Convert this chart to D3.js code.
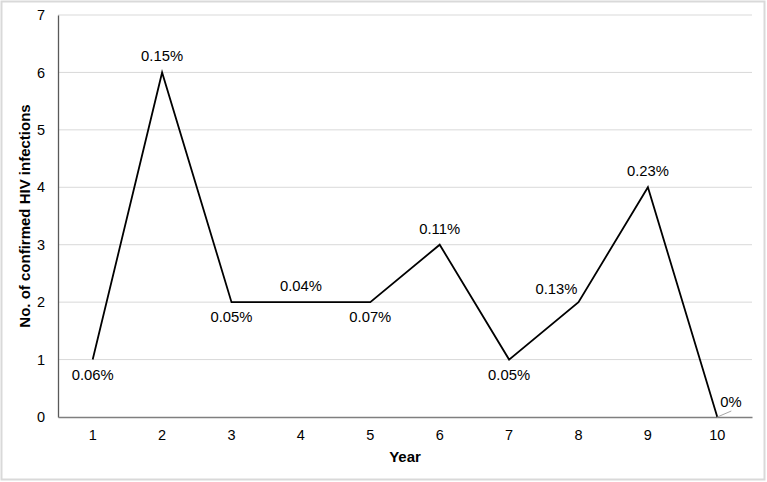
<!DOCTYPE html>
<html><head><meta charset="utf-8">
<script src="https://cdn.jsdelivr.net/npm/d3@7"></script>
<style>body{margin:0;background:#fff}svg{display:block;font-family:"Liberation Sans",Arial,sans-serif}</style>
</head><body><svg id="c" width="767" height="482"></svg>
<script>
const years = ["1","2","3","4","5","6","7","8","9","10"];
const infections = [1,6,2,2,2,3,1,2,4,0];
const rates = ["0.06%","0.15%","0.05%","0.04%","0.07%","0.11%","0.05%","0.13%","0.23%","0%"];
const labelSide = ["below","above","below","above","below","above","below","left","above","leader"];
const yTicks = [0,1,2,3,4,5,6,7];

const svg = d3.select("#c");
const m = {l:58, r:752, t:15, b:417};
svg.append("rect").attr("x",1.5).attr("y",1.5).attr("width",763).attr("height",478)
  .attr("fill","#fff").attr("stroke","#d9d9d9").attr("stroke-width",2);

const x = d3.scaleBand().domain(years).range([m.l,m.r]);
const y = d3.scaleLinear().domain([0,7]).range([m.b,m.t]);

// gridlines
svg.append("g").selectAll("line").data(yTicks.filter(d=>d>0)).join("line")
  .attr("x1",m.l).attr("x2",m.r).attr("y1",d=>y(d)).attr("y2",d=>y(d))
  .attr("stroke","#d9d9d9").attr("stroke-width",1);

// y axis
const ya = svg.append("g").attr("transform",`translate(${m.l},0)`)
  .call(d3.axisLeft(y).tickValues(yTicks).tickSize(0).tickPadding(13).tickFormat(d3.format("d")));
ya.select(".domain").attr("stroke","#595959").attr("stroke-width",1.3);
ya.selectAll("text").attr("font-size",14.5).attr("fill","#000").attr("font-family","Liberation Sans, Arial, sans-serif");

// x axis
const xa = svg.append("g").attr("transform",`translate(0,${m.b})`)
  .call(d3.axisBottom(x).tickSize(0).tickPadding(13));
xa.select(".domain").attr("stroke","#7f7f7f").attr("stroke-width",1.3);
xa.selectAll("text").attr("font-size",14.5).attr("fill","#000").attr("font-family","Liberation Sans, Arial, sans-serif");

const cx = (d,i)=>x(years[i])+x.bandwidth()/2;

// line
svg.append("path").datum(infections)
  .attr("d", d3.line().x((d,i)=>cx(d,i)).y(d=>y(d)))
  .attr("fill","none").attr("stroke","#000").attr("stroke-width",1.8);

// leader line
infections.forEach((v,i)=>{
  if(labelSide[i]==="leader"){
    svg.append("line").attr("x1",cx(v,i)).attr("y1",y(v)).attr("x2",cx(v,i)+14).attr("y2",y(v)-6)
      .attr("stroke","#a6a6a6").attr("stroke-width",1);
  }
});

// data labels
svg.append("g").selectAll("text").data(infections).join("text")
  .attr("x",(d,i)=>{
    const s=labelSide[i];
    if(s==="left") return cx(d,i)-1;
    if(s==="leader") return cx(d,i)+3;
    return cx(d,i);
  })
  .attr("y",(d,i)=>{
    const s=labelSide[i];
    if(s==="below") return y(d)+20;
    if(s==="above") return y(d)-11;
    if(s==="left") return y(d)-8;
    return y(d)-10;
  })
  .attr("text-anchor",(d,i)=>labelSide[i]==="left"?"end":(labelSide[i]==="leader"?"start":"middle"))
  .attr("font-size",14.8).attr("fill","#000")
  .text((d,i)=>rates[i]);

// axis titles
svg.append("text").attr("x",(m.l+m.r)/2).attr("y",462).attr("text-anchor","middle")
  .attr("font-size",15).attr("font-weight","bold").text("Year");
svg.append("text").attr("transform",`translate(30,${(m.t+m.b)/2}) rotate(-90)`)
  .attr("text-anchor","middle").attr("font-size",15).attr("font-weight","bold")
  .text("No. of confirmed HIV infections");
</script></body></html>
